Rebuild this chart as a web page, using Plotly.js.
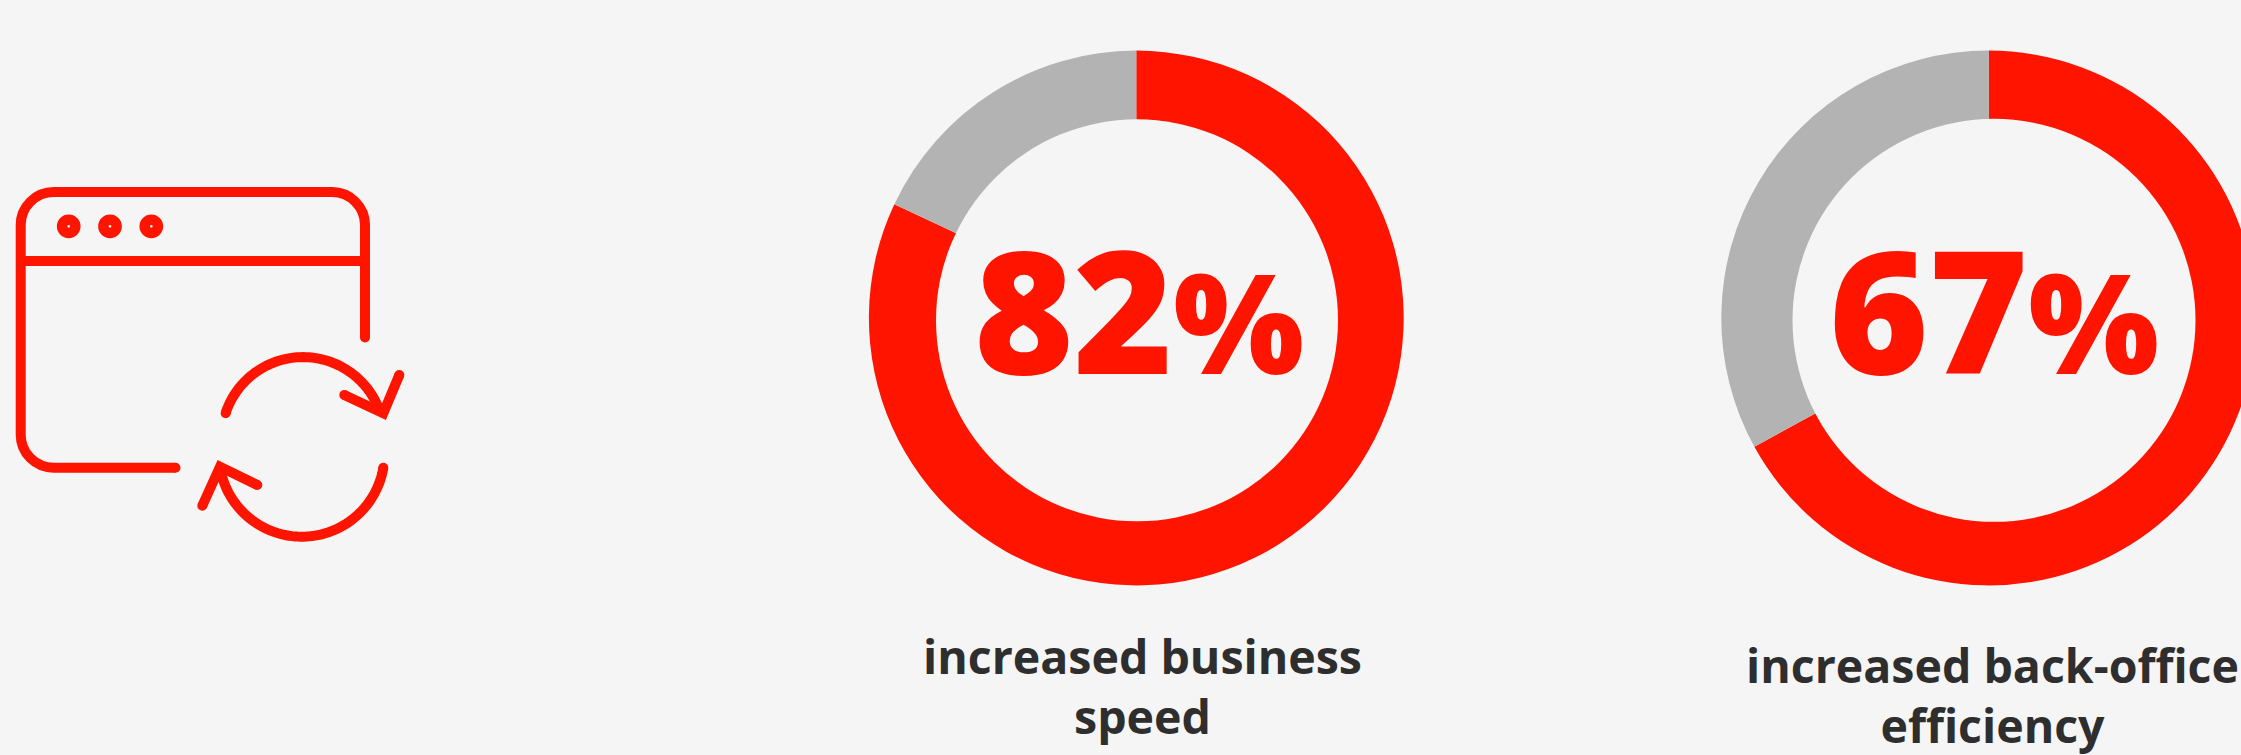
<!DOCTYPE html>
<html>
<head>
<meta charset="utf-8">
<script src="https://cdn.plot.ly/plotly-3.0.1.min.js"></script>
<style>
html,body{margin:0;padding:0;background:#f5f5f5;overflow:hidden;width:2241px;height:755px}
#chart{width:2300px;height:755px}
</style>
</head>
<body>
<div id="chart"></div>
<script>
// ---- data ----
const segmentNames = ["Increased", "Other"];
const businessSpeed = [82, 18];
const backOffice = [67, 33];
const percentLabels = ["82", "67"];
const captions = ["increased business<br>speed", "increased back-office<br>efficiency"];
const segmentColors = ["#ff1400", "#b3b3b3"];

// ---- page frame (pixels) ----
const W = 2300, H = 755, BG = "#f5f5f5", RED = "#ff1400";
const px = x => x / W;
const py = y => 1 - y / H;

function donut(values, cx, cy, r) {
  return {
    type: "pie", values, labels: segmentNames, sort: false, direction: "clockwise", rotation: 0,
    hole: 0.7, textinfo: "none", hoverinfo: "none", showlegend: false,
    marker: {colors: segmentColors, line: {width: 0}},
    domain: {x: [px(cx - r), px(cx + r)], y: [py(cy + r), py(cy - r)]}
  };
}

// ---- icon helpers (pixel path → paper path) ----
const pt = (x, y) => px(x).toFixed(6) + "," + py(y).toFixed(6);
const iconLine = {color: RED, width: 10};
function pathShape(d) {
  return {type: "path", xref: "paper", yref: "paper", path: d, line: iconLine, layer: "above"};
}
function poly(points) {
  return pathShape(points.map((p, i) => (i ? "L" : "M") + pt(p[0], p[1])).join(" "));
}
function arc(cx, cy, r, a0, a1) {
  const n = Math.ceil(Math.abs(a1 - a0) / 2), pts = [];
  for (let i = 0; i <= n; i++) {
    const a = (a0 + (a1 - a0) * i / n) * Math.PI / 180;
    pts.push([cx + r * Math.cos(a), cy + r * Math.sin(a)]);
  }
  return poly(pts);
}
function roundedCorner(x0, y0, cx, cy, x1, y1) {
  const k = 0.5523;
  return "L" + pt(x0, y0) + " C" + pt(x0 + (cx - x0) * k, y0 + (cy - y0) * k) + " " +
         pt(x1 + (cx - x1) * k, y1 + (cy - y1) * k) + " " + pt(x1, y1);
}
function circle(cx, cy, r, fill, lineW) {
  return {type: "circle", xref: "paper", yref: "paper", layer: "above",
    x0: px(cx - r), x1: px(cx + r), y0: py(cy + r), y1: py(cy - r),
    fillcolor: fill, line: lineW ? {color: RED, width: lineW} : {width: 0}};
}
const cap = (x, y) => circle(x, y, 5, RED, 0);

const L = 20.7, R = 365, T = 192, B = 467.7, C = 33;
const windowPath = "M" + pt(R, 337.5) + " " +
  roundedCorner(R, T + C, R, T, R - C, T) + " " +
  roundedCorner(L + C, T, L, T, L, T + C) + " " +
  roundedCorner(L, B - C, L, B, L + C, B) + " L" + pt(175.5, B);

const shapes = [
  // inner discs that finish the rings
  circle(1137, 320.3, 201, BG, 0),
  circle(1994, 320.3, 201.5, BG, 0),
  // window icon
  pathShape(windowPath),
  poly([[L, 261], [R, 261]]),
  circle(68.7, 226.3, 6.6, "rgba(0,0,0,0)", 10.5),
  circle(110, 226.3, 6.6, "rgba(0,0,0,0)", 10.5),
  circle(151.3, 226.3, 6.6, "rgba(0,0,0,0)", 10.5),
  // refresh arrows
  arc(303, 438.6, 81.5, 198, 340),
  poly([[344.3, 395], [383.3, 413.3], [399.3, 375]]),
  arc(301.7, 453.9, 82.8, 9.6, 170),
  poly([[257.3, 485], [220, 466.7], [202.3, 505.7]]),
  // rounded ends
  cap(365, 337.5), cap(175.5, B), cap(225.7, 413.3), cap(344.3, 395), cap(399.3, 375),
  cap(383.3, 467.7), cap(257.3, 485), cap(202.3, 505.7)
];

function bigNumber(text, x) {
  return {
    xref: "paper", yref: "paper", x: px(x), y: py(424.5), xanchor: "center", yanchor: "bottom",
    showarrow: false, borderpad: 0,
    text: text + '<span style="font-size:138px">%</span>',
    font: {family: "Open Sans", size: 170, color: RED, weight: 800}
  };
}
function caption(text, x, y) {
  return {
    xref: "paper", yref: "paper", x: px(x), y: py(y), xanchor: "center", yanchor: "top",
    showarrow: false, borderpad: 0, align: "center", text,
    font: {family: "Open Sans", size: 46.5, color: "#2e2e2e", weight: 700}
  };
}

const data = [
  donut(businessSpeed, 1136.3, 318, 267.4),
  donut(backOffice, 1988.7, 318, 267.4)
];

const layout = {
  width: W, height: H,
  margin: {l: 0, r: 0, t: 0, b: 0, pad: 0},
  paper_bgcolor: BG, plot_bgcolor: BG,
  showlegend: false,
  shapes,
  annotations: [
    bigNumber(percentLabels[0], 1139),
    bigNumber(percentLabels[1], 1993.6),
    caption(captions[0], 1142, 623),
    caption(captions[1], 1993, 632)
  ]
};

Plotly.newPlot("chart", data, layout, {displayModeBar: false, staticPlot: true});
</script>
</body>
</html>
